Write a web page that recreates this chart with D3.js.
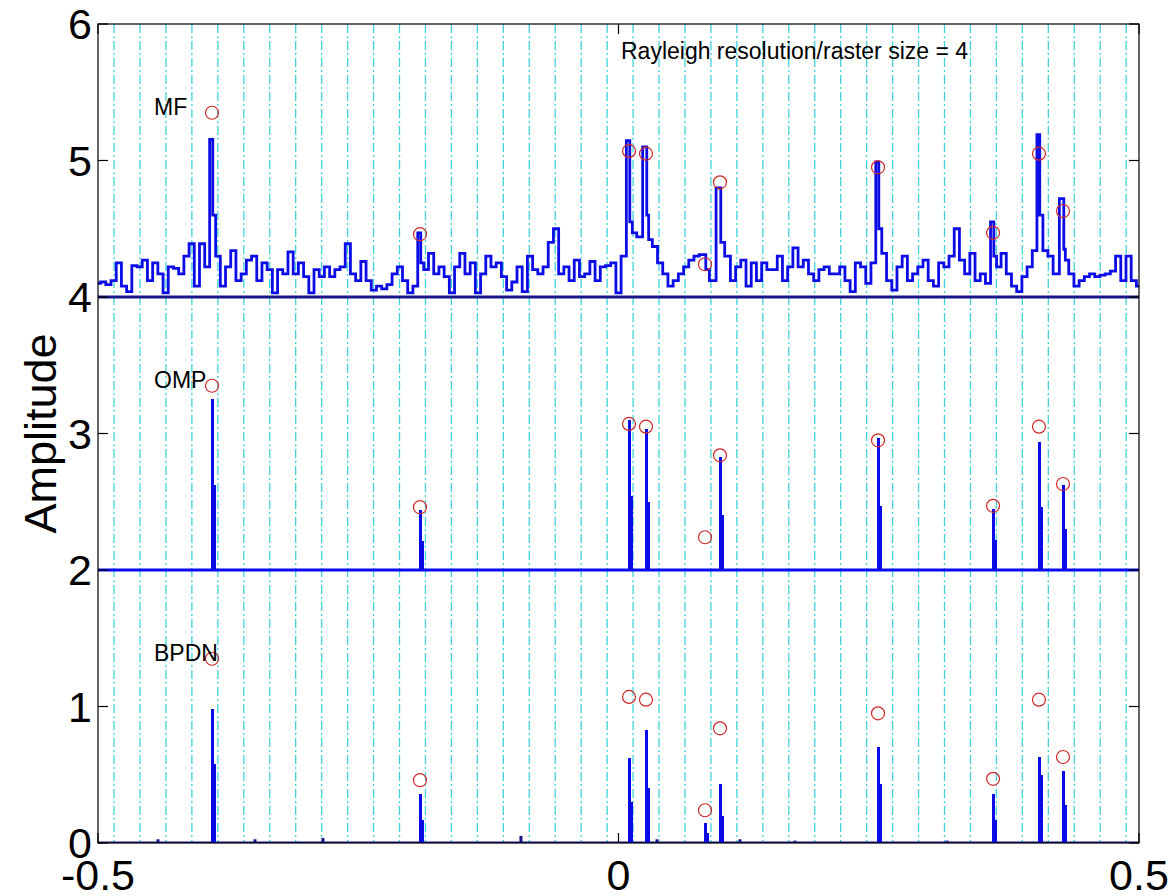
<!DOCTYPE html>
<html>
<head>
<meta charset="utf-8">
<script src="https://cdn.jsdelivr.net/npm/d3@7"></script>
<style>
body { margin: 0; background: #fff; }
svg { display: block; font-family: "Liberation Sans", Arial, sans-serif; }
</style>
</head>
<body>
<svg id="chart"></svg>
<script>
// true scatterer positions / amplitudes (red circles)
const peakX   = [-0.3905, -0.1907, 0.0101, 0.0264, 0.0831, 0.0975, 0.2493, 0.3598, 0.4039, 0.4270];
const trueAmp = [1.35, 0.46, 1.07, 1.05, 0.24, 0.84, 0.95, 0.47, 1.05, 0.63];

// matched filter output (already shifted by +4)
const mfPeak = [5.155, 4.47, 5.145, 5.10, 4.31, 4.80, 4.99, 4.55, 5.19, 4.72];
const mfSide = [4.60, 4.25, 4.55, 4.60, 4.20, 4.40, 4.50, 4.30, 4.60, 4.35];
// MF background, sampled every 0.005 from -0.5 to 0.5
const mfNoise = [
  4.10, 4.11, 4.09, 4.12, 4.25, 4.08, 4.04, 4.23, 4.22, 4.27,
  4.12, 4.25, 4.17, 4.03, 4.22, 4.21, 4.17, 4.30, 4.39, 4.08,
  4.39, 4.22, 4.32, 4.30, 4.08, 4.22, 4.34, 4.12, 4.17, 4.27,
  4.30, 4.12, 4.25, 4.20, 4.03, 4.20, 4.17, 4.33, 4.17, 4.25,
  4.15, 4.03, 4.20, 4.15, 4.22, 4.15, 4.20, 4.22, 4.39, 4.17,
  4.12, 4.26, 4.12, 4.05, 4.08, 4.06, 4.09, 4.17, 4.22, 4.12,
  4.03, 4.08, 4.20, 4.20, 4.32, 4.17, 4.22, 4.15, 4.03, 4.22,
  4.32, 4.17, 4.25, 4.03, 4.17, 4.30, 4.22, 4.25, 4.15, 4.05,
  4.11, 4.22, 4.04, 4.30, 4.20, 4.17, 4.22, 4.40, 4.50, 4.17,
  4.22, 4.12, 4.27, 4.15, 4.17, 4.26, 4.12, 4.22, 4.23, 4.25,
  4.03, 4.30, 4.40, 4.47, 4.44, 4.45, 4.42, 4.37, 4.25, 4.17,
  4.08, 4.12, 4.17, 4.22, 4.27, 4.30, 4.31, 4.25, 4.12, 4.30,
  4.37, 4.30, 4.12, 4.22, 4.27, 4.08, 4.25, 4.12, 4.25, 4.20,
  4.20, 4.30, 4.12, 4.22, 4.36, 4.22, 4.27, 4.17, 4.12, 4.20,
  4.22, 4.17, 4.17, 4.22, 4.12, 4.04, 4.25, 4.22, 4.10, 4.25,
  4.40, 4.32, 4.12, 4.05, 4.22, 4.30, 4.12, 4.17, 4.22, 4.27,
  4.12, 4.08, 4.25, 4.22, 4.30, 4.50, 4.27, 4.17, 4.32, 4.12,
  4.17, 4.10, 4.35, 4.22, 4.32, 4.17, 4.08, 4.04, 4.15, 4.22,
  4.34, 4.40, 4.34, 4.30, 4.17, 4.40, 4.27, 4.17, 4.08, 4.12,
  4.15, 4.17, 4.15, 4.16, 4.17, 4.19, 4.30, 4.12, 4.30, 4.12,
  4.08
];

// OMP estimate (shifted by +2)
const ompPeak = [1.25, 0.44, 1.10, 1.03, 0, 0.83, 0.965, 0.45, 0.94, 0.62];
const ompSide = [0.62, 0.21, 0.54, 0.50, 0, 0.40, 0.47, 0.22, 0.46, 0.30];

// BPDN estimate
const bpdnPeak = [0.985, 0.36, 0.625, 0.83, 0.145, 0.43, 0.705, 0.36, 0.63, 0.53];
const bpdnSide = [0.58, 0.17, 0.30, 0.40, 0.07, 0.20, 0.43, 0.17, 0.50, 0.28];
const bpdnSmallX = [-0.4424, -0.3492, -0.2839, -0.0937, 0.0370, 0.1167, 0.1695, 0.3156];
const bpdnSmall  = [0.02, 0.02, 0.03, 0.045, 0.02, 0.02, 0.01, 0.01];

const offsets = [4, 2, 0];
const panelNames = ['MF', 'OMP', 'BPDN'];
const yTicks = [0, 1, 2, 3, 4, 5, 6];
const xTicks = [-0.5, 0, 0.5];
const xTickLabels = ['-0.5', '0', '0.5'];

const W = 1173, H = 896;
const margin = { top: 24, right: 34, bottom: 53, left: 98 };

const svg = d3.select('#chart')
    .attr('width', W)
    .attr('height', H);

svg.append('rect')
    .attr('width', W)
    .attr('height', H)
    .attr('fill', '#fff');

const x = d3.scaleLinear().domain([-0.5, 0.5]).range([margin.left, W - margin.right]);
const y = d3.scaleLinear().domain([0, 6]).range([H - margin.bottom, margin.top]);

svg.append('clipPath').attr('id', 'plot')
  .append('rect')
    .attr('x', margin.left)
    .attr('y', margin.top)
    .attr('width', W - margin.left - margin.right)
    .attr('height', H - margin.top - margin.bottom);

const plot = svg.append('g').attr('clip-path', 'url(#plot)');

// dash-dot raster grid
const gridX = d3.range(40).map(k => -0.4846 + 0.02493 * k);
plot.selectAll('line.grid')
  .data(gridX)
  .join('line')
    .attr('class', 'grid')
    .attr('x1', d => x(d)).attr('x2', d => x(d))
    .attr('y1', y(6)).attr('y2', y(0))
    .attr('stroke', '#3fd2d8')
    .attr('stroke-width', 1.3)
    .attr('stroke-dasharray', '9,3,2,3');

// MF trace: background grid + peaks merged
let mfPts = mfNoise
    .map((v, i) => [-0.5 + 0.005 * i, v])
    .filter(p => peakX.every(px => Math.abs(p[0] - px) > 0.003));
peakX.forEach((px, i) => {
    mfPts.push([px, mfPeak[i]]);
    mfPts.push([px + 0.0015, mfSide[i]]);
});
mfPts.sort((a, b) => a[0] - b[0]);

const line = d3.line()
    .x(d => x(d[0]))
    .y(d => y(d[1]))
    .curve(d3.curveStep);

// baselines
[4, 2, 0].forEach((b, i) => {
    plot.append('line')
        .attr('x1', x(-0.5)).attr('x2', x(0.5))
        .attr('y1', y(b)).attr('y2', y(b))
        .attr('stroke', i === 1 ? '#0a0af0' : '#16168a')
        .attr('stroke-width', 3);
});

plot.append('path')
    .datum(mfPts)
    .attr('d', line)
    .attr('fill', 'none')
    .attr('stroke', '#0c0ce6')
    .attr('stroke-width', 2.8)
    .attr('stroke-linejoin', 'miter');

// stems for OMP and BPDN: main bar plus the lower adjacent sample
function stems(peaks, sides, off) {
    const g = plot.append('g')
        .attr('fill', '#0a0ae6')
        .attr('shape-rendering', 'crispEdges');
    peakX.forEach((px, i) => {
        if (peaks[i] <= 0) return;
        g.append('rect')
            .attr('x', Math.round(x(px)) - 1)
            .attr('width', 3)
            .attr('y', y(off + peaks[i]))
            .attr('height', y(off) - y(off + peaks[i]));
        g.append('rect')
            .attr('x', Math.round(x(px)) + 1)
            .attr('width', 3)
            .attr('y', y(off + sides[i]))
            .attr('height', y(off) - y(off + sides[i]));
    });
}
stems(ompPeak, ompSide, 2);
stems(bpdnPeak, bpdnSide, 0);

plot.selectAll('line.small')
  .data(bpdnSmallX)
  .join('line')
    .attr('class', 'small')
    .attr('x1', d => x(d)).attr('x2', d => x(d))
    .attr('y1', y(0)).attr('y2', (d, i) => y(bpdnSmall[i]) - 1)
    .attr('stroke', '#16168a').attr('stroke-width', 3);

// red circles for true amplitudes in each panel
offsets.forEach(off => {
    plot.selectAll(null)
      .data(peakX)
      .join('circle')
        .attr('cx', d => x(d))
        .attr('cy', (d, i) => y(off + trueAmp[i]))
        .attr('r', 6.5)
        .attr('fill', 'none')
        .attr('stroke', '#d02828')
        .attr('stroke-width', 1.2);
});

// panel labels
offsets.forEach((off, i) => {
    svg.append('text')
        .attr('x', x(-0.4462))
        .attr('y', y(off + 1.33))
        .attr('font-size', 23)
        .attr('fill', '#000')
        .text(panelNames[i]);
});

svg.append('text')
    .attr('x', x(0.0024))
    .attr('y', y(5.74))
    .attr('font-size', 23)
    .attr('fill', '#000')
    .text('Rayleigh resolution/raster size = 4');

// axes box
svg.append('rect')
    .attr('x', margin.left)
    .attr('y', margin.top)
    .attr('width', W - margin.left - margin.right)
    .attr('height', H - margin.top - margin.bottom)
    .attr('fill', 'none')
    .attr('stroke', '#000')
    .attr('stroke-width', 1.2);

// inward ticks, both sides
const tickLen = 10;
yTicks.forEach(t => {
    svg.append('line')
        .attr('x1', margin.left).attr('x2', margin.left + tickLen)
        .attr('y1', y(t)).attr('y2', y(t))
        .attr('stroke', '#000').attr('stroke-width', 1.2);
    svg.append('line')
        .attr('x1', W - margin.right).attr('x2', W - margin.right - tickLen)
        .attr('y1', y(t)).attr('y2', y(t))
        .attr('stroke', '#000').attr('stroke-width', 1.2);
    svg.append('text')
        .attr('x', margin.left - 6)
        .attr('y', y(t) + 15)
        .attr('text-anchor', 'end')
        .attr('font-size', 43)
        .text(t);
});
xTicks.forEach((t, i) => {
    svg.append('line')
        .attr('x1', x(t)).attr('x2', x(t))
        .attr('y1', y(0)).attr('y2', y(0) - tickLen)
        .attr('stroke', '#000').attr('stroke-width', 1.2);
    svg.append('line')
        .attr('x1', x(t)).attr('x2', x(t))
        .attr('y1', y(6)).attr('y2', y(6) + tickLen)
        .attr('stroke', '#000').attr('stroke-width', 1.2);
    svg.append('text')
        .attr('x', x(t))
        .attr('y', 890)
        .attr('text-anchor', 'middle')
        .attr('font-size', 43)
        .text(xTickLabels[i]);
});

svg.append('text')
    .attr('transform', 'translate(56,' + y(3) + ') rotate(-90)')
    .attr('text-anchor', 'middle')
    .attr('font-size', 45)
    .text('Amplitude');
</script>
</body>
</html>
